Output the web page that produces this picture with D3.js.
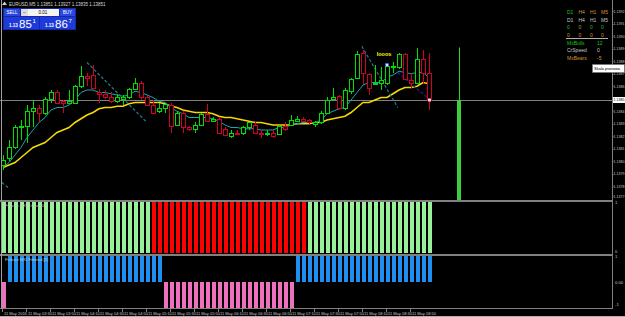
<!DOCTYPE html>
<html>
<head>
<meta charset="utf-8">
<script src="https://cdn.jsdelivr.net/npm/d3@7"></script>
<style>
  body { margin: 0; background: #000; overflow: hidden; }
  svg { display: block; font-family: "Liberation Sans", Arial, sans-serif; }
</style>
</head>
<body>
<div id="chart"></div>
<script>
// EURUSD M5, 11 May 2016, one value per bar
const opens = [1.13799,1.13805,1.13813,1.13829,1.13830,1.13842,1.13845,1.13841,1.13852,1.13857,
  1.13850,1.13849,1.13849,1.13862,1.13870,1.13871,1.13857,1.13856,1.13853,1.13850,
  1.13852,1.13853,1.13860,1.13865,1.13853,1.13847,1.13842,1.13845,1.13847,1.13831,
  1.13841,1.13829,1.13828,1.13831,1.13840,1.13834,1.13836,1.13828,1.13822,1.13825,
  1.13825,1.13829,1.13831,1.13825,1.13824,1.13825,1.13824,1.13830,1.13831,1.13834,
  1.13836,1.13835,1.13832,1.13833,1.13841,1.13852,1.13854,1.13845,1.13858,1.13869,
  1.13889,1.13872,1.13864,1.13865,1.13865,1.13877,1.13877,1.13888,1.13867,1.13865,
  1.13884,1.13873];
const highs = [1.13807,1.13819,1.13831,1.13835,1.13847,1.13851,1.13847,1.13853,1.13859,1.13859,
  1.13851,1.13859,1.13863,1.13878,1.13873,1.13879,1.13860,1.13859,1.13857,1.13856,
  1.13855,1.13861,1.13869,1.13866,1.13854,1.13851,1.13849,1.13849,1.13849,1.13842,
  1.13842,1.13830,1.13833,1.13841,1.13848,1.13837,1.13837,1.13829,1.13827,1.13827,
  1.13830,1.13833,1.13833,1.13827,1.13827,1.13827,1.13831,1.13833,1.13839,1.13838,
  1.13837,1.13836,1.13834,1.13842,1.13853,1.13861,1.13855,1.13861,1.13869,1.13890,
  1.13891,1.13873,1.13879,1.13877,1.13879,1.13881,1.13889,1.13889,1.13873,1.13893,
  1.13891,1.13889];
const lows = [1.13795,1.13802,1.13812,1.13819,1.13817,1.13829,1.13833,1.13839,1.13849,1.13848,
  1.13841,1.13848,1.13848,1.13861,1.13862,1.13860,1.13849,1.13852,1.13849,1.13849,
  1.13847,1.13852,1.13859,1.13851,1.13846,1.13840,1.13841,1.13841,1.13825,1.13830,
  1.13825,1.13826,1.13825,1.13830,1.13833,1.13833,1.13824,1.13822,1.13821,1.13823,
  1.13823,1.13827,1.13824,1.13821,1.13822,1.13821,1.13823,1.13826,1.13830,1.13833,
  1.13833,1.13832,1.13829,1.13832,1.13840,1.13851,1.13843,1.13843,1.13856,1.13868,
  1.13864,1.13855,1.13863,1.13859,1.13863,1.13873,1.13876,1.13867,1.13861,1.13864,
  1.13864,1.13843];
const closes = [1.13803,1.13813,1.13829,1.13830,1.13842,1.13845,1.13841,1.13852,1.13857,1.13849,
  1.13849,1.13850,1.13862,1.13870,1.13869,1.13861,1.13856,1.13853,1.13850,1.13853,
  1.13853,1.13860,1.13865,1.13853,1.13847,1.13841,1.13845,1.13848,1.13830,1.13841,
  1.13829,1.13828,1.13831,1.13840,1.13834,1.13836,1.13825,1.13823,1.13825,1.13824,
  1.13829,1.13833,1.13825,1.13824,1.13825,1.13822,1.13830,1.13828,1.13835,1.13836,
  1.13834,1.13833,1.13833,1.13841,1.13851,1.13853,1.13845,1.13859,1.13868,1.13888,
  1.13873,1.13861,1.13865,1.13867,1.13878,1.13878,1.13888,1.13868,1.13865,1.13884,
  1.13873,1.13851];

// moving averages as shown on the chart
const maFast = [1.13797,1.13801,1.13807,1.13813,1.13821,1.13827,1.13833,1.13837,1.13843,1.13845,
  1.13845,1.13847,1.13851,1.13857,1.13859,1.13859,1.13857,1.13857,1.13856,1.13855,
  1.13854,1.13855,1.13858,1.13857,1.13855,1.13853,1.13850,1.13849,1.13845,1.13842,
  1.13840,1.13837,1.13837,1.13837,1.13837,1.13836,1.13834,1.13831,1.13829,1.13829,
  1.13828,1.13828,1.13828,1.13827,1.13827,1.13827,1.13829,1.13829,1.13831,1.13832,
  1.13833,1.13833,1.13833,1.13835,1.13840,1.13842,1.13844,1.13845,1.13851,1.13857,
  1.13863,1.13865,1.13865,1.13865,1.13869,1.13871,1.13874,1.13873,1.13872,1.13873,
  1.13873,1.13869];
const maSlow = [1.13797,1.13799,1.13801,1.13805,1.13809,1.13813,1.13815,1.13817,1.13821,1.13825,
  1.13827,1.13829,1.13833,1.13836,1.13839,1.13841,1.13844,1.13845,1.13845,1.13846,
  1.13846,1.13848,1.13849,1.13849,1.13849,1.13849,1.13849,1.13848,1.13846,1.13845,
  1.13843,1.13842,1.13841,1.13841,1.13841,1.13840,1.13838,1.13837,1.13837,1.13836,
  1.13835,1.13834,1.13833,1.13833,1.13832,1.13831,1.13831,1.13831,1.13831,1.13832,
  1.13832,1.13832,1.13833,1.13833,1.13835,1.13836,1.13837,1.13838,1.13841,1.13845,
  1.13849,1.13849,1.13851,1.13853,1.13853,1.13856,1.13859,1.13861,1.13861,1.13862,
  1.13865,1.13864];

// sub windows: +1 / -1 per bar
const trend = [1,1,1,1,1,1,1,1,1,1,1,1,1,1,1,1,1,1,1,1,1,1,1,1,1,
  -1,-1,-1,-1,-1,-1,-1,-1,-1,-1,-1,-1,-1,-1,-1,-1,-1,-1,-1,-1,-1,-1,-1,-1,-1,-1,
  1,1,1,1,1,1,1,1,1,1,1,1,1,1,1,1,1,1,1,1,1];
const filter = [-1,
  1,1,1,1,1,1,1,1,1,1,1,1,1,1,1,1,1,1,1,1,1,1,1,1,1,1,
  -1,-1,-1,-1,-1,-1,-1,-1,-1,-1,-1,-1,-1,-1,-1,-1,-1,-1,-1,-1,-1,-1,
  1,1,1,1,1,1,1,1,1,1,1,1,1,1,1,1,1,1,1,1,1,1,1];

const timeLabels = ["11 May 2016","11 May 03:30","11 May 03:50","11 May 04:10","11 May 04:30",
  "11 May 04:50","11 May 05:10","11 May 05:30","11 May 05:50","11 May 06:10","11 May 06:30",
  "11 May 06:50","11 May 07:10","11 May 07:30","11 May 07:50","11 May 08:10","11 May 08:30","11 May 08:50"];
const priceTicks = [1.13922,1.13912,1.13902,1.13892,1.13882,1.13872,1.13862,
  1.13842,1.13832,1.13822,1.13812,1.13802,1.13792,1.13782,1.13774];
const bid = 1.13851;

// drawn objects: [bar, price] pairs
const trendLines = [
  { a: [14, 1.13881], b: [24, 1.13833], color: "#1e8190" },
  { a: [-0.2, 1.13785], b: [0.85, 1.13781], color: "#1e8190" },
  { a: [59.8, 1.13894], b: [65.8, 1.13845], color: "#1e8190" },
  { a: [65.8, 1.13873], b: [70.7, 1.13853], color: "#23239a" }
];
const signalBar = { bar: 76, high: 1.13893, top: 1.13851, low: 1.13771 };

const W = 625, H = 317;
const svg = d3.select("#chart")
    .append("svg")
    .attr("width", W)
    .attr("height", H)
    .style("background", "#000");

const x = d3.scaleLinear().domain([0, 71]).range([3, 429]);
const y = d3.scaleLinear().domain([1.13771, 1.13931]).range([200, 0]);
const yTrend = d3.scaleLinear().domain([0, 1]).range([253, 202]);
const yFilter = d3.scaleLinear().domain([-1, 1]).range([308, 256]);
const bars = d3.range(opens.length);

const grey = "#808080", txt = "#c8c8c8";

// bid line
svg.append("line")
    .attr("x1", 0).attr("x2", 612)
    .attr("y1", Math.round(y(bid)) + 0.5).attr("y2", Math.round(y(bid)) + 0.5)
    .attr("stroke", grey);

// moving averages
svg.append("path")
    .datum(maSlow)
    .attr("fill", "none")
    .attr("stroke", "#f5d800")
    .attr("stroke-width", 1.6)
    .attr("d", d3.line().x((d, i) => x(i)).y(d => y(d)));
svg.append("path")
    .datum(maFast)
    .attr("fill", "none")
    .attr("stroke", "#14a8b0")
    .attr("stroke-width", 1)
    .attr("d", d3.line().x((d, i) => x(i)).y(d => y(d)));

// trend lines
svg.selectAll("line.tl")
    .data(trendLines)
    .enter()
    .append("line")
    .attr("class", "tl")
    .attr("x1", d => x(d.a[0])).attr("y1", d => y(d.a[1]))
    .attr("x2", d => x(d.b[0])).attr("y2", d => y(d.b[1]))
    .attr("stroke", d => d.color)
    .attr("stroke-width", 1.2)
    .attr("stroke-dasharray", "3,2");

// candles
const bullColor = "#00e000", bearColor = "#d0002a";
const candleColor = i => closes[i] >= opens[i] ? bullColor : bearColor;
svg.selectAll("line.wick")
    .data(bars)
    .enter()
    .append("line")
    .attr("class", "wick")
    .attr("shape-rendering", "crispEdges")
    .attr("x1", i => Math.round(x(i)) + 0.5)
    .attr("x2", i => Math.round(x(i)) + 0.5)
    .attr("y1", i => Math.round(y(highs[i])))
    .attr("y2", i => Math.round(y(lows[i])))
    .style("stroke", candleColor);
svg.selectAll("rect.body")
    .data(bars)
    .enter()
    .append("rect")
    .attr("class", "body")
    .attr("shape-rendering", "crispEdges")
    .attr("x", i => Math.round(x(i)) - 1.5)
    .attr("y", i => Math.round(y(Math.max(opens[i], closes[i]))) + 0.5)
    .attr("width", 4)
    .attr("height", i => Math.max(0.01, Math.round(y(Math.min(opens[i], closes[i]))) - Math.round(y(Math.max(opens[i], closes[i])))))
    .style("fill", "#000")
    .style("stroke", candleColor);

// markers and label
svg.append("rect")
    .attr("x", x(64) - 1.5).attr("y", y(1.13879) - 1.5)
    .attr("width", 3).attr("height", 3)
    .attr("fill", "#dde4ff").attr("stroke", "#4060ff").attr("stroke-width", 0.6);
svg.append("rect")
    .attr("x", x(71) - 1).attr("y", y(bid) - 1.5)
    .attr("width", 3).attr("height", 3)
    .attr("fill", "#ffd0d8");
svg.append("text")
    .attr("x", x(63.5)).attr("y", y(1.13886))
    .attr("text-anchor", "middle")
    .attr("fill", "#ffff00")
    .attr("font-size", 5.5)
    .attr("font-weight", "bold")
    .text("looos");

// signal bar right of the last candle
svg.append("line")
    .attr("x1", Math.round(x(signalBar.bar)) + 0.5).attr("x2", Math.round(x(signalBar.bar)) + 0.5)
    .attr("y1", y(signalBar.high)).attr("y2", y(signalBar.top))
    .attr("stroke", "#22dd22");
svg.append("rect")
    .attr("x", Math.round(x(signalBar.bar)) - 2)
    .attr("y", y(signalBar.top))
    .attr("width", 4)
    .attr("height", y(signalBar.low) - y(signalBar.top))
    .attr("fill", "#3ccf3c");

// sub window 1
svg.selectAll("rect.trend")
    .data(bars)
    .enter()
    .append("rect")
    .attr("class", "trend")
    .attr("x", i => Math.round(x(i)) - 1)
    .attr("y", yTrend(1))
    .attr("width", 4)
    .attr("height", i => yTrend(0) - yTrend(Math.abs(trend[i])))
    .attr("fill", i => trend[i] > 0 ? "#98f098" : "#ff0000");

// sub window 2
svg.selectAll("rect.filter")
    .data(bars)
    .enter()
    .append("rect")
    .attr("class", "filter")
    .attr("x", i => Math.round(x(i)) - 1)
    .attr("y", i => yFilter(Math.max(0, filter[i])))
    .attr("width", 4)
    .attr("height", i => Math.abs(yFilter(filter[i]) - yFilter(0)))
    .attr("fill", i => filter[i] > 0 ? "#1e8ff0" : "#f070c0");

// window separators and frame
svg.append("rect").attr("x", 0).attr("y", 200).attr("width", 612).attr("height", 2).attr("fill", grey);
svg.append("rect").attr("x", 0).attr("y", 254).attr("width", 612).attr("height", 2).attr("fill", grey);
svg.append("rect").attr("x", 0).attr("y", 308).attr("width", 612).attr("height", 1).attr("fill", grey);
svg.append("rect").attr("x", 612).attr("y", 0).attr("width", 1).attr("height", 309).attr("fill", grey);
svg.append("rect").attr("x", 1).attr("y", 0).attr("width", 1).attr("height", 309).attr("fill", "#a0a0a0");
svg.append("rect").attr("x", 0).attr("y", 316).attr("width", W).attr("height", 1).attr("fill", "#b0b0b0");

// sub window titles
svg.append("text").attr("x", 5).attr("y", 207).attr("fill", txt).attr("font-size", 4.2)
    .text("Fullcon MXI Trend [0]");
svg.append("text").attr("x", 5).attr("y", 261).attr("fill", txt).attr("font-size", 4.2)
    .text("Fullcon MXI Filtered [0]");

// price axis
const yAxis = svg.append("g").attr("font-size", 3.6).attr("fill", txt);
yAxis.selectAll("text")
    .data(priceTicks)
    .enter()
    .append("text")
    .attr("x", 613.5)
    .attr("y", d => y(d) + 1.3)
    .text(d => d.toFixed(4));
yAxis.selectAll("line")
    .data(priceTicks)
    .enter()
    .append("line")
    .attr("x1", 612).attr("x2", 613.5)
    .attr("y1", d => Math.round(y(d)) + 0.5).attr("y2", d => Math.round(y(d)) + 0.5)
    .attr("stroke", grey);
svg.append("rect").attr("x", 613).attr("y", y(bid) - 3).attr("width", 12).attr("height", 6).attr("fill", "#fff");
svg.append("text").attr("x", 613.5).attr("y", y(bid) + 1.3).attr("font-size", 3.6).attr("fill", "#000")
    .text(bid.toFixed(4));

// sub window scales
const subTicks = [
  { v: "1", py: yTrend(1) + 2 }, { v: "0", py: yTrend(0) },
  { v: "1", py: yFilter(1) + 2 }, { v: "0.00", py: yFilter(0) + 1.5 }, { v: "-1", py: yFilter(-1) - 2 }
];
svg.selectAll("text.subtick")
    .data(subTicks)
    .enter()
    .append("text")
    .attr("class", "subtick")
    .attr("x", 615)
    .attr("y", d => d.py)
    .attr("font-size", 4.2)
    .attr("fill", txt)
    .text(d => d.v);

// time axis, a label every 4 bars
const xAxis = svg.append("g");
xAxis.selectAll("text")
    .data(timeLabels)
    .enter()
    .append("text")
    .attr("x", (d, k) => Math.round(x(k * 4)) + 1)
    .attr("y", 314.5)
    .attr("font-size", 4)
    .attr("fill", txt)
    .text(d => d);
xAxis.selectAll("line")
    .data(timeLabels)
    .enter()
    .append("line")
    .attr("x1", (d, k) => Math.round(x(k * 4)) - 0.5).attr("x2", (d, k) => Math.round(x(k * 4)) - 0.5)
    .attr("y1", 309).attr("y2", 312)
    .attr("stroke", grey);

// title
svg.append("path").attr("d", "M2,5 L4.5,1.5 L7,5 Z").attr("fill", "#d0d0d0");
svg.append("text").attr("x", 9).attr("y", 5.5).attr("font-size", 4.5).attr("fill", "#d8d8d8")
    .text("EURUSD,M5  1.13851 1.13927 1.13835 1.13851");

// one click trading panel
const panel = svg.append("g");
panel.append("rect").attr("x", 3).attr("y", 8).attr("width", 73).attr("height", 22).attr("fill", "#1428a8");
panel.append("rect").attr("x", 4).attr("y", 9).attr("width", 16).attr("height", 7).attr("fill", "#2a48e0");
panel.append("text").attr("x", 12).attr("y", 14).attr("text-anchor", "middle").attr("font-size", 4.5).attr("fill", "#fff").text("SELL");
panel.append("rect").attr("x", 21).attr("y", 9).attr("width", 38).attr("height", 7).attr("fill", "#f4f4f4");
panel.append("rect").attr("x", 21).attr("y", 9).attr("width", 7).attr("height", 7).attr("fill", "#dcdcdc");
panel.append("text").attr("x", 24.5).attr("y", 14).attr("text-anchor", "middle").attr("font-size", 5).attr("fill", "#333").text("−");
panel.append("text").attr("x", 43).attr("y", 14.2).attr("text-anchor", "middle").attr("font-size", 4.5).attr("fill", "#000").text("0.01");
panel.append("rect").attr("x", 60).attr("y", 9).attr("width", 15).attr("height", 7).attr("fill", "#2a48e0");
panel.append("text").attr("x", 67.5).attr("y", 14).attr("text-anchor", "middle").attr("font-size", 4.5).attr("fill", "#fff").text("BUY");
panel.append("rect").attr("x", 4).attr("y", 17).attr("width", 35).attr("height", 12).attr("fill", "#1e3ad8");
panel.append("rect").attr("x", 40).attr("y", 17).attr("width", 35).attr("height", 12).attr("fill", "#1e3ad8");
[{ x0: 4, big: "85", sup: "1" }, { x0: 40, big: "86", sup: "7" }].forEach(q => {
  panel.append("text").attr("x", q.x0 + 5).attr("y", 27).attr("font-size", 4.5).attr("fill", "#fff").attr("font-weight", "bold").text("1.13");
  panel.append("text").attr("x", q.x0 + 15).attr("y", 28).attr("font-size", 11.5).attr("fill", "#fff").text(q.big);
  panel.append("text").attr("x", q.x0 + 28.5).attr("y", 22.5).attr("font-size", 6).attr("fill", "#fff").text(q.sup);
});

// timeframe table
const tf = ["D1", "H4", "H1", "M5"];
const colX = [567, 578.5, 590, 601];
const green = "#12c812", orange = "#d89428";
const tableRows = [
  { y: 14, cells: tf, colors: [green, "#c89a3c", orange, orange] },
  { y: 21.5, cells: tf, colors: [txt, txt, txt, txt] },
  { y: 29, cells: ["0", "0", "0", "0"], colors: [green, "#a8a810", green, green] },
  { y: 36.5, cells: ["0", "0", "0", "0"], colors: [orange, orange, orange, orange] }
];
tableRows.forEach(r => {
  r.cells.forEach((c, k) => {
    svg.append("text").attr("x", colX[k]).attr("y", r.y).attr("font-size", 5).attr("fill", r.colors[k]).text(c);
  });
});
svg.append("line").attr("x1", 566).attr("x2", 608).attr("y1", 38.5).attr("y2", 38.5).attr("stroke", "#b0b0b0");
const stats = [
  { name: "MxBulls", val: "12", y: 44.5, color: green },
  { name: "CrSpeed", val: "0", y: 52, color: txt },
  { name: "MxBears", val: "-5", y: 59.5, color: orange }
];
stats.forEach(s => {
  svg.append("text").attr("x", 567).attr("y", s.y).attr("font-size", 5).attr("fill", s.color).text(s.name);
  svg.append("text").attr("x", 597).attr("y", s.y).attr("font-size", 5).attr("fill", s.color).text(s.val);
});

// tooltip
svg.append("rect").attr("x", 592.5).attr("y", 64.5).attr("width", 32).attr("height", 8)
    .attr("fill", "#ffffff").attr("stroke", "#707070").attr("stroke-width", 0.6);
svg.append("text").attr("x", 594).attr("y", 70.3).attr("font-size", 4).attr("fill", "#000").text("Skala pionowa");
</script>
</body>
</html>
